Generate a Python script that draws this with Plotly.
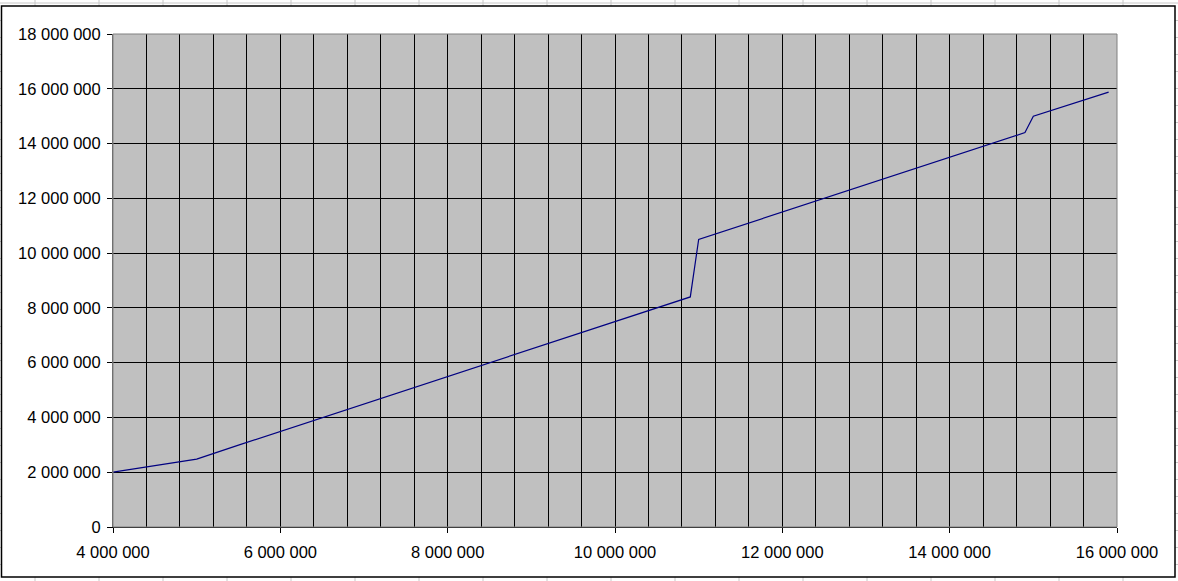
import plotly.graph_objects as go

# Data
x_vals = [4000000, 4500000, 5000000, 5500000, 6000000, 6500000, 7000000, 7500000,
          8000000, 8500000, 9000000, 9500000, 10000000, 10500000, 10900000, 11000000,
          11500000, 12000000, 12500000, 13000000, 13500000, 14000000, 14500000,
          14900000, 15000000, 15500000, 15900000]
y_vals = [2000000, 2250000, 2480000, 2990000, 3490000, 3990000, 4490000, 4990000,
          5500000, 6000000, 6500000, 7000000, 7500000, 8000000, 8400000, 10500000,
          11000000, 11500000, 12000000, 12500000, 13000000, 13500000, 14000000,
          14400000, 15000000, 15480000, 15880000]

W, H = 1178, 581
L, R, T, B = 113, 61, 34, 54
PW, PH = W - L - R, H - T - B

def px(x):
    return (x - L) / PW

def py(y):
    return (H - B - y) / PH

fig = go.Figure()
fig.add_trace(go.Scatter(x=x_vals, y=y_vals, mode="lines",
                         line=dict(color="#000080", width=1.2), hoverinfo="skip"))

shapes = []
# faint spreadsheet cell lines outside the chart
cell = "#c8c8c8"
for k in range(19):
    xx = 35 + 64 * k
    if xx > W:
        break
    shapes.append(dict(type="line", xref="paper", yref="paper", x0=px(xx), x1=px(xx),
                       y0=py(0), y1=py(6), line=dict(color=cell, width=1), layer="below"))
    shapes.append(dict(type="line", xref="paper", yref="paper", x0=px(xx), x1=px(xx),
                       y0=py(577), y1=py(581), line=dict(color=cell, width=1), layer="below"))
shapes.append(dict(type="line", xref="paper", yref="paper", x0=px(0), x1=px(W),
                   y0=py(3), y1=py(3), line=dict(color=cell, width=1), layer="below"))
for k in range(35):
    yy = 20.5 + 17 * k
    if yy > H:
        break
    shapes.append(dict(type="line", xref="paper", yref="paper", x0=px(1175), x1=px(W),
                       y0=py(yy), y1=py(yy), line=dict(color=cell, width=1), layer="below"))
    shapes.append(dict(type="line", xref="paper", yref="paper", x0=px(0), x1=px(1.5),
                       y0=py(yy), y1=py(yy), line=dict(color=cell, width=1), layer="below"))
# chart border
shapes.append(dict(type="rect", xref="paper", yref="paper", x0=px(1.5), x1=px(1175),
                   y0=py(577), y1=py(6), line=dict(color="black", width=1.5),
                   fillcolor="rgba(0,0,0,0)", layer="below"))
# plot area border
shapes.append(dict(type="rect", xref="paper", yref="paper", x0=0, x1=1, y0=0, y1=1,
                   line=dict(color="#808080", width=1), fillcolor="rgba(0,0,0,0)", layer="above"))

font = dict(family="Liberation Sans, Arial, sans-serif", size=16.5, color="black")

fig.update_layout(
    width=W, height=H,
    margin=dict(l=L, r=R, t=T, b=B, pad=0),
    paper_bgcolor="white",
    plot_bgcolor="#c0c0c0",
    showlegend=False,
    separators=". ",
    font=font,
    shapes=shapes,
    xaxis=dict(range=[4000000, 16000000], dtick=2000000, tick0=0, tickformat=",d",
               showgrid=True, gridcolor="black", gridwidth=1,
               minor=dict(dtick=400000, tick0=0, showgrid=True, gridcolor="black", gridwidth=1),
               ticks="outside", ticklen=5, tickcolor="black", tickwidth=1,
               ticklabelstandoff=5,
               showline=True, linecolor="black", linewidth=1, zeroline=False,
               tickfont=font, fixedrange=True),
    yaxis=dict(range=[0, 18000000], dtick=2000000, tick0=0, tickformat=",d",
               showgrid=True, gridcolor="black", gridwidth=1,
               ticks="outside", ticklen=5, tickcolor="black", tickwidth=1,
               ticklabelstandoff=3,
               showline=True, linecolor="#606060", linewidth=1, zeroline=False,
               tickfont=font, fixedrange=True),
)

fig.write_html("out.html", config={"displayModeBar": False},
               post_script="document.body.style.margin='0';document.body.style.overflow='hidden';")
